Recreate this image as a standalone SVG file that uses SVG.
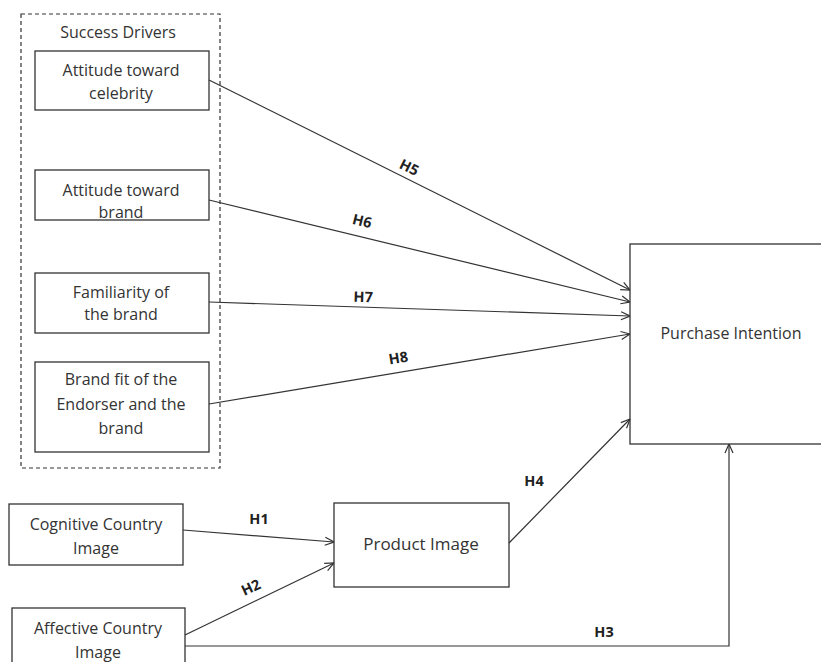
<svg xmlns="http://www.w3.org/2000/svg" width="821" height="662" viewBox="0 0 821 662">
<defs>
<style>
.box{fill:#fff;stroke:#333;stroke-width:1.3}
.t{font-family:"Open Sans","Noto Sans","DejaVu Sans",sans-serif;font-size:16px;fill:#333;text-anchor:middle}
.h{font-family:"Open Sans","Noto Sans","DejaVu Sans",sans-serif;font-size:14.5px;font-weight:bold;fill:#222;text-anchor:middle}
.c{fill:none;stroke:#333;stroke-width:1.2}
</style>
<marker id="arr" viewBox="0 0 10 10" refX="10" refY="5" markerWidth="10" markerHeight="10" markerUnits="userSpaceOnUse" orient="auto">
<path d="M1,1 L10,5 L1,9" fill="none" stroke="#333" stroke-width="1.2"/>
</marker>
</defs>
<rect width="821" height="662" fill="#fff"/>
<g id="success-drivers">
<rect x="21" y="14" width="199" height="454" fill="none" stroke="#333" stroke-width="1.2" stroke-dasharray="4,3"/>
<text class="t" x="118" y="38">Success Drivers</text>
</g>
<g id="n-celebrity">
<rect class="box" x="35" y="51" width="174" height="59"/>
<text class="t" x="121" y="76">Attitude toward</text>
<text class="t" x="121" y="99">celebrity</text>
</g>
<g id="n-brand">
<rect class="box" x="35" y="170" width="174" height="50"/>
<text class="t" x="121" y="196">Attitude toward</text>
<text class="t" x="121" y="218">brand</text>
</g>
<g id="n-familiarity">
<rect class="box" x="35" y="273" width="174" height="60"/>
<text class="t" x="121" y="298">Familiarity of</text>
<text class="t" x="121" y="320">the brand</text>
</g>
<g id="n-fit">
<rect class="box" x="35" y="362" width="174" height="90"/>
<text class="t" x="121" y="385">Brand fit of the</text>
<text class="t" x="121" y="410">Endorser and the</text>
<text class="t" x="121" y="434">brand</text>
</g>
<g id="n-cognitive">
<rect class="box" x="9" y="504" width="174" height="61"/>
<text class="t" x="96" y="530">Cognitive Country</text>
<text class="t" x="96" y="554">Image</text>
</g>
<g id="n-affective">
<rect class="box" x="12" y="608" width="173" height="60"/>
<text class="t" x="98" y="634">Affective Country</text>
<text class="t" x="98" y="658">Image</text>
</g>
<g id="n-product">
<rect class="box" x="334" y="503" width="175" height="84"/>
<text class="t" x="421" y="550" style="font-size:17px">Product Image</text>
</g>
<g id="n-purchase">
<rect class="box" x="630" y="244" width="200" height="200"/>
<text class="t" x="731" y="339">Purchase Intention</text>
</g>
<g id="connectors">
<line class="c" x1="209" y1="80" x2="630" y2="290" marker-end="url(#arr)"/>
<line class="c" x1="209" y1="200" x2="630" y2="302" marker-end="url(#arr)"/>
<line class="c" x1="209" y1="302" x2="630" y2="316" marker-end="url(#arr)"/>
<line class="c" x1="209" y1="404" x2="630" y2="334" marker-end="url(#arr)"/>
<line class="c" x1="183" y1="530" x2="334" y2="542" marker-end="url(#arr)"/>
<line class="c" x1="185" y1="635" x2="334" y2="563" marker-end="url(#arr)"/>
<line class="c" x1="509" y1="543" x2="630" y2="419" marker-end="url(#arr)"/>
<polyline class="c" points="185,646 729,646 729,444" marker-end="url(#arr)"/>
<text class="h" transform="translate(407,172) rotate(26)">H5</text>
<text class="h" transform="translate(361,226) rotate(14)">H6</text>
<text class="h" transform="translate(363,302) rotate(2)">H7</text>
<text class="h" transform="translate(399,363) rotate(-9)">H8</text>
<text class="h" x="259" y="524">H1</text>
<text class="h" transform="translate(253,592) rotate(-25)">H2</text>
<text class="h" x="534" y="486">H4</text>
<text class="h" x="604" y="637">H3</text>
</g>
</svg>
